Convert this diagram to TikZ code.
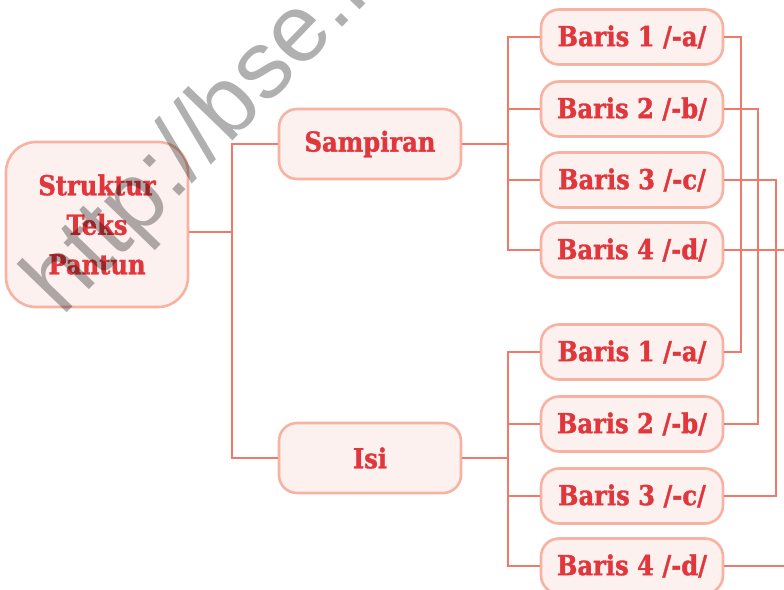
\documentclass[tikz,border=0pt]{standalone}
\usepackage{fontspec}
\setmainfont{DejaVu Serif}[FakeStretch=0.88, BoldFeatures={FakeBold=1.2}]
\newfontfamily\wmfont{Liberation Sans}
\definecolor{linec}{HTML}{F07A6A}
\definecolor{boxd}{HTML}{F8B2A2}
\definecolor{boxf}{HTML}{FCF1EE}
\definecolor{txtc}{HTML}{E0363C}
\tikzset{
  box/.style={draw=boxd, fill=boxf, line width=2.6pt, rounded corners=18pt,
    minimum width=182pt, minimum height=55pt, text=txtc, inner sep=0pt,
    font=\fontsize{27.5}{34}\selectfont\bfseries},
  conn/.style={draw=linec, line width=2.8pt},
  wmark/.style={text opacity=0.31, text=black,
    font=\wmfont\fontsize{96}{110}\selectfont, inner sep=0pt}
}
\begin{document}
\begin{tikzpicture}[x=1pt,y=-1pt]
\useasboundingbox (0,0) rectangle (784,589);
\clip (0,0) rectangle (784,589);
% coordinates
\coordinate (j1) at (232,232);
\coordinate (j2) at (508,144);
\coordinate (j3) at (508,458);
\coordinate (v1) at (741,0);
\coordinate (v2) at (758,0);
\coordinate (v3) at (776,0);
\coordinate (outr) at (800,0);
% boxes
\node[box, minimum height=165pt, rounded corners=30pt, align=center,
  font=\fontsize{27.5}{39.5}\selectfont\bfseries] (root) at (97,224.5) {Struktur\\Teks\\Pantun};
\node[box, minimum height=70pt] (samp) at (370,144) {Sampiran};
\node[box, minimum height=70pt] (isi) at (370,458) {Isi};
\node[box] (t1) at (632,37) {Baris 1 /-a/};
\node[box] (t2) at (632,109) {Baris 2 /-b/};
\node[box] (t3) at (632,180) {Baris 3 /-c/};
\node[box] (t4) at (632,250) {Baris 4 /-d/};
\node[box] (u1) at (632,352) {Baris 1 /-a/};
\node[box] (u2) at (632,424) {Baris 2 /-b/};
\node[box] (u3) at (632,496) {Baris 3 /-c/};
\node[box] (u4) at (632,566) {Baris 4 /-d/};
% connectors
\draw[conn] (j1 -| root.east) -- (j1);
\draw[conn] (samp.west) -| (j1) |- (isi.west);
\draw[conn] (samp.east) -- (j2);
\draw[conn] (t1.west) -| (j2) |- (t4.west);
\draw[conn] (t2.west) -- (t2.west -| j2);
\draw[conn] (t3.west) -- (t3.west -| j2);
\draw[conn] (isi.east) -- (j3);
\draw[conn] (u1.west) -| (j3) |- (u4.west);
\draw[conn] (u2.west) -- (u2.west -| j3);
\draw[conn] (u3.west) -- (u3.west -| j3);
\draw[conn] (t1.east) -| (v1 |- u1.east) -- (u1.east);
\draw[conn] (t2.east) -| (v2 |- u2.east) -- (u2.east);
\draw[conn] (t3.east) -| (v3 |- u3.east) -- (u3.east);
\draw[conn] (t4.east) -- (t4.east -| outr);
\draw[conn] (u4.east) -- (u4.east -| outr);
% watermark
\node[wmark, anchor=base west, rotate=46] (wm) at (62,318) {http://bse.kemdikbud.go.id};
\end{tikzpicture}
\end{document}
